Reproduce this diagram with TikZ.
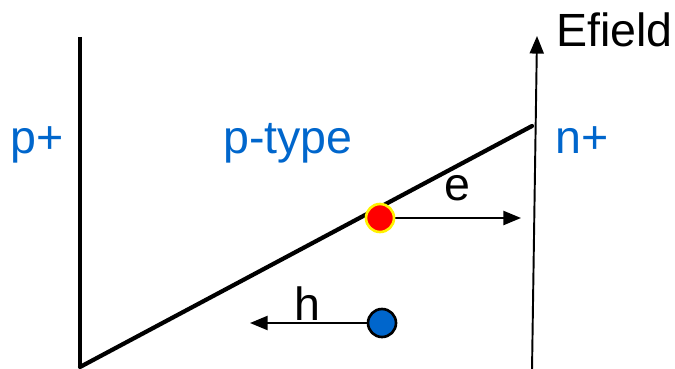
\documentclass[tikz,border=0pt]{standalone}
\usepackage{fontspec}
\setmainfont{Liberation Sans}
\usetikzlibrary{arrows.meta}
\definecolor{dopeblue}{RGB}{0,102,204}
\begin{document}
\begin{tikzpicture}[x=0.02cm,y=-0.02cm,>={Triangle[length=10pt,width=8pt]},font=\fontsize{26.5}{30}\selectfont,
  lbl/.style={text=dopeblue,inner sep=0,anchor=base},txt/.style={inner sep=0,anchor=base},
  carrier/.style={circle,inner sep=0,minimum size=0.56cm,line width=1.5pt}]
\useasboundingbox (0,0) rectangle (675,368);
% band edges and field axis
\draw[line width=1.8pt] (80,37) -- (80,368);\draw[line width=2.4pt,line cap=round] (80,367) -- (532,126);
\coordinate (ax0) at (532,370);\coordinate (ax1) at (537,36);\draw[->,line width=1.1pt] (ax0) -- (ax1);
\node[txt,anchor=base west] (efield) at (556,47){Efield};
\node[lbl] (pplus) at (37,153){p+};\node[lbl] (ptype) at (288,153){p-type};\node[lbl] (nplus) at (582,153){n+};
% carriers
\coordinate (eend) at (521,218);\coordinate (hend) at (250,323);
\draw[->,line width=1.1pt] (380,218) -- (eend);\draw[->,line width=1.1pt] (382,323) -- (hend);
\node[carrier,fill=red,draw=yellow] (elec) at (380,218){};\node[carrier,fill=dopeblue,draw=black] (hole) at (382,323){};
\node[txt] (elbl) at (457,200){e};\node[txt] (hlbl) at (307,320){h};
\end{tikzpicture}
\end{document}
